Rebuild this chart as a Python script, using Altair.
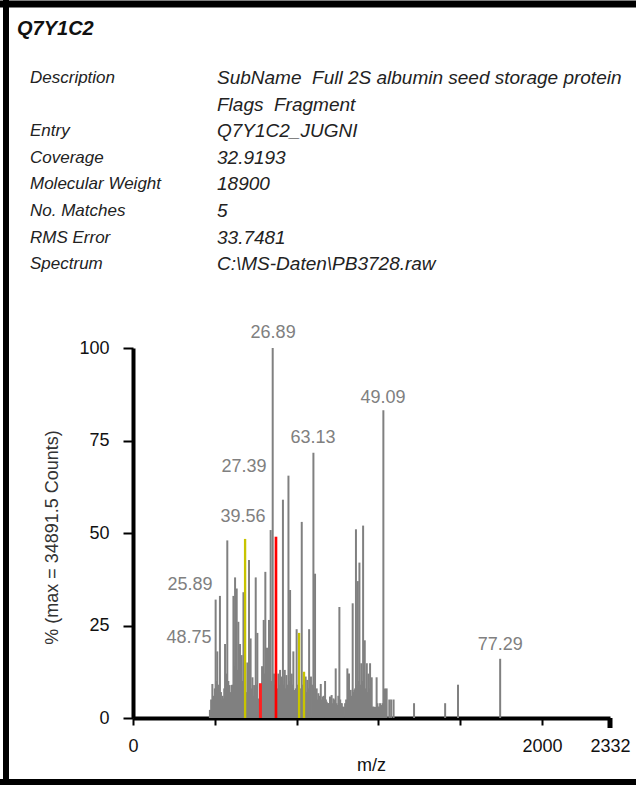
import altair as alt
import pandas as pd

# ---------------- data ----------------
title_text = "Q7Y1C2"
info_labels = ["Description", "", "Entry", "Coverage", "Molecular Weight",
               "No. Matches", "RMS Error", "Spectrum"]
info_values = ["SubName\u00a0 Full 2S albumin seed storage protein",
               "Flags\u00a0 Fragment", "Q7Y1C2_JUGNI", "32.9193", "18900",
               "5", "33.7481", "C:\\MS-Daten\\PB3728.raw"]

# main peaks (m/z, % of max)
mz = [376, 388, 396, 404, 412, 425, 434, 442, 450, 461, 471, 482, 491, 499,
      507, 515, 523, 531, 540, 548, 559, 567, 575, 584, 592, 600, 608, 616,
      623, 631, 639, 647, 655, 665, 673, 683, 689, 699, 711, 719, 727, 733,
      742, 750, 760, 768, 776, 784, 792, 800, 812, 825, 836, 844, 852, 861,
      870, 882, 890, 898, 906, 918, 927, 939, 947, 955, 963, 971, 980, 991,
      999, 1009, 1017, 1025, 1037, 1048, 1056, 1064, 1074, 1082, 1090, 1099,
      1107, 1116, 1125, 1133, 1143, 1151, 1159, 1167, 1175, 1191, 1200, 1208,
      1216, 1224, 1232, 1240, 1253, 1262, 1274, 1374, 1526, 1589, 1795]
pct = [2.2, 9.2, 4.9, 32, 18, 33, 4.9, 5.3, 20, 48, 8.9, 8.9, 33, 38,
       35, 26, 20, 17, 34, 48.4, 15, 42.7, 21.5, 11, 8.9, 38, 23, 5.3,
       9.4, 14, 26.5, 39.5, 19, 26.5, 50.8, 100, 12, 49, 12, 13, 11.2, 59,
       13, 11.6, 65.5, 34.6, 12, 18, 7.6, 24, 23, 53, 12.5, 11.2, 10.3, 24,
       11.2, 71.7, 39, 8, 6.7, 9.2, 5.8, 10, 4.4, 4, 5.8, 6.2, 5.3, 13.4,
       3.5, 30, 4, 3.1, 4, 13.4, 12, 7.6, 31, 7.6, 51, 37,
       42, 14.8, 52, 21, 14.8, 12, 14.8, 11, 3.1, 11, 3.1, 4,
       3.5, 83.2, 8, 8, 5, 5, 5, 4, 4, 9, 16]

# low-level background peaks filling the clusters (m/z, % of max)
base_mz = [382, 392, 400, 408, 418, 430, 438, 446, 455, 466, 476, 486, 495,
           503, 511, 519, 527, 535, 544, 553, 563, 571, 579, 588, 596, 604,
           612, 619, 627, 635, 643, 651, 660, 669, 678, 694, 705, 715, 723,
           730, 737, 746, 755, 764, 772, 780, 788, 796, 806, 818, 830, 840,
           848, 856, 865, 876, 886, 894, 902, 912, 922, 933, 943, 951, 959,
           967, 975, 985, 995, 1004, 1013, 1021, 1031, 1042, 1052, 1060, 1069,
           1078, 1086, 1094, 1103, 1111, 1120, 1129, 1138, 1147, 1155, 1163,
           1171, 1183, 1195, 1204, 1212, 1220, 1228, 1236]
base_pct = [5, 6, 8, 10, 9, 7, 6, 8, 12, 10, 7, 9, 14,
            15, 13, 11, 9, 10, 8, 7, 9, 10, 8, 6, 7, 9,
            5, 4, 6, 10, 12, 9, 11, 13, 10, 9, 8, 9, 8,
            10, 9, 8, 9, 10, 8, 9, 7, 8, 9, 8, 9, 8,
            7, 8, 7, 9, 8, 7, 5, 6, 5, 6, 5, 4, 4,
            5, 4, 5, 4, 6, 5, 4, 3, 5, 6, 5, 6,
            7, 8, 9, 10, 9, 10, 9, 8, 7, 8, 6,
            3, 3, 4, 3, 3, 4, 5, 4]

yellow_mz = [548, 812, 836]
red_mz = [699]
red_thin_mz = [623]

peak_labels = ["26.89", "49.09", "63.13", "27.39", "39.56", "25.89", "48.75", "77.29"]
peak_label_mz = [685, 1222, 880, 543, 538, 279, 274, 1795]
peak_label_pct = [104, 86.5, 75.7, 67.8, 54.3, 36, 21.6, 19.7]

x_ticks = [0, 200, 400, 600, 800, 1000, 1200, 1400, 1600, 1800, 2000, 2200, 2332]
y_ticks = [0, 25, 50, 75, 100]

# ---------------- tables ----------------
all_mz = base_mz + mz
all_pct = base_pct + pct
kinds = []
for i, m in enumerate(all_mz):
    if i >= len(base_mz) and m in yellow_mz:
        kinds.append("yellow")
    elif i >= len(base_mz) and m in red_mz:
        kinds.append("red")
    elif i >= len(base_mz) and m in red_thin_mz:
        kinds.append("redthin")
    else:
        kinds.append("gray")
order_map = {"gray": 0, "yellow": 1, "redthin": 2, "red": 3}
spec = pd.DataFrame({"mz": all_mz, "pct": all_pct, "kind": kinds})
spec["o"] = spec["kind"].map(order_map)
spec = spec.sort_values(["o", "mz"], kind="stable").reset_index(drop=True)

labels_df = pd.DataFrame({"t": peak_labels, "mz": peak_label_mz, "pct": peak_label_pct})
one = pd.DataFrame({"a": [0]})

ROW0 = -270
ROWH = 26.6
info_df = pd.DataFrame({
    "label": info_labels,
    "value": info_values,
    "py": [ROW0 + i * ROWH for i in range(len(info_labels))],
})

FONT = "Liberation Sans"

xscale = alt.Scale(domain=[0, 2332], nice=False, zero=False)
yscale = alt.Scale(domain=[0, 100], nice=False)

x_axis = alt.Axis(values=x_ticks, format="d", grid=False,
                  labelExpr="(datum.value == 0 || datum.value == 2000 || datum.value == 2332) ? datum.label : ''",
                  domainWidth=4, domainColor="black", tickWidth=2, tickSize=7,
                  tickColor="black", labelFontSize=18, labelFont=FONT,
                  labelColor="#111", labelPadding=12, labelFlush=False,
                  labelOverlap=False, title="m/z", titleFont=FONT,
                  titleFontSize=18, titleFontWeight="normal", titleColor="#111",
                  titleX=238, titleY=47, titleBaseline="middle", titleAlign="center")
y_axis = alt.Axis(values=y_ticks, grid=False, domainWidth=4, domainColor="black",
                  tickWidth=2, tickSize=10, tickColor="black", labelFontSize=18,
                  labelFont=FONT, labelColor="#111", labelPadding=14,
                  labelFlush=False, labelOverlap=False,
                  title="% (max = 34891.5 Counts)", titleFont=FONT,
                  titleFontSize=18, titleFontWeight="normal", titleColor="#333",
                  titleX=-81, titleY=189, titleAngle=270, titleAlign="center",
                  titleBaseline="middle")

bars = alt.Chart(spec).mark_rule().encode(
    x=alt.X("mz:Q", scale=xscale, axis=x_axis),
    y=alt.Y("pct:Q", scale=yscale, axis=y_axis),
    y2=alt.datum(0),
    color=alt.Color("kind:N", scale=alt.Scale(domain=["gray", "yellow", "red", "redthin"],
                                              range=["#808080", "#c8c400", "#ff0000", "#ff2020"]),
                    legend=None),
    strokeWidth=alt.StrokeWidth("kind:N", scale=alt.Scale(domain=["gray", "yellow", "red", "redthin"],
                                                          range=[2, 3, 3, 1.5]),
                                legend=None),
    order=alt.Order("o:Q"),
)

plabels = alt.Chart(labels_df).mark_text(font=FONT, fontSize=18, color="#808080",
                                         align="center", baseline="middle").encode(
    x=alt.X("mz:Q", scale=xscale),
    y=alt.Y("pct:Q", scale=yscale),
    text="t:N",
)

end_block = alt.Chart(one).mark_rule(color="black", strokeWidth=5).encode(
    x=alt.value(477), y=alt.value(370), y2=alt.value(380))

title_mark = alt.Chart(one).mark_text(font=FONT, fontSize=20, fontWeight="bold",
                                      fontStyle="italic", color="#111",
                                      align="left", baseline="middle").encode(
    x=alt.value(-116), y=alt.value(-319), text=alt.value(title_text))

lbl_mark = alt.Chart(info_df).mark_text(font=FONT, fontSize=17, fontStyle="italic",
                                        color="#222", align="left", baseline="middle").encode(
    x=alt.value(-103), y=alt.Y("py:Q", scale=None), text="label:N")

val_mark = alt.Chart(info_df).mark_text(font=FONT, fontSize=19, fontStyle="italic",
                                        color="#222", align="left", baseline="middle").encode(
    x=alt.value(84), y=alt.Y("py:Q", scale=None), text="value:N")

frame_left = alt.Chart(one).mark_rule(color="black", strokeWidth=6).encode(
    x=alt.value(-127), y=alt.value(-350), y2=alt.value(440))
frame_top = alt.Chart(one).mark_rule(color="black", strokeWidth=7).encode(
    y=alt.value(-344), x=alt.value(-133), x2=alt.value(510))
frame_bottom = alt.Chart(one).mark_rule(color="black", strokeWidth=6).encode(
    y=alt.value(434), x=alt.value(-133), x2=alt.value(510))

chart = alt.layer(frame_left, frame_top, frame_bottom, title_mark, lbl_mark, val_mark,
                  bars, plabels, end_block).properties(
    width=477, height=370,
    autosize=alt.AutoSizeParams(type="none"),
    padding={"left": 133, "top": 348, "right": 26, "bottom": 67},
    background="white",
).configure_view(stroke=None)

chart.save("out.html", embed_options={"renderer": "svg", "actions": False})
